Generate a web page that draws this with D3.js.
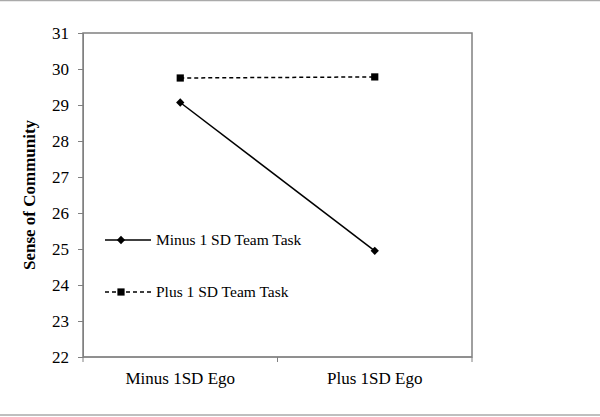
<!DOCTYPE html>
<html>
<head>
<meta charset="utf-8">
<script src="https://cdn.jsdelivr.net/npm/d3@7"></script>
<style>
  body { margin: 0; background: #fff; }
  svg, svg text { font-family: "Liberation Serif", "DejaVu Serif", serif; }
</style>
</head>
<body>
<div id="chart"></div>
<script>
// categories on the x axis
const categories = ["Minus 1SD Ego", "Plus 1SD Ego"];
// series names and values
const seriesNames = ["Minus 1 SD Team Task", "Plus 1 SD Team Task"];
const minusTeamTask = [29.07, 24.95];
const plusTeamTask = [29.75, 29.78];
const yTicks = [22, 23, 24, 25, 26, 27, 28, 29, 30, 31];

const width = 600;
const height = 417;
const margin = { top: 33, right: 128, bottom: 60, left: 83 };

const svg = d3.select("#chart").append("svg")
  .attr("width", width)
  .attr("height", height);

// outer frame lines (top and bottom)
svg.append("line").attr("x1", 0).attr("x2", width).attr("y1", 0.5).attr("y2", 0.5)
  .attr("stroke", "#aaa").attr("stroke-width", 1.5);
svg.append("line").attr("x1", 0).attr("x2", width).attr("y1", height - 2).attr("y2", height - 2)
  .attr("stroke", "#aaa").attr("stroke-width", 1.5);

const x = d3.scaleBand()
  .domain(categories)
  .range([margin.left, width - margin.right]);

const y = d3.scaleLinear()
  .domain([22, 31])
  .range([height - margin.bottom, margin.top]);

// plot area border
svg.append("rect")
  .attr("x", margin.left)
  .attr("y", margin.top)
  .attr("width", width - margin.left - margin.right)
  .attr("height", height - margin.top - margin.bottom)
  .attr("fill", "none")
  .attr("stroke", "#808080")
  .attr("stroke-width", 1.5);

// y axis
const yAxis = svg.append("g")
  .attr("transform", `translate(${margin.left},0)`)
  .call(d3.axisLeft(y).tickValues(yTicks).tickSize(5).tickPadding(9));
yAxis.attr("font-family", null).attr("font-size", null);
yAxis.select(".domain").attr("stroke", "#808080");
yAxis.selectAll(".tick line").attr("stroke", "#808080");
yAxis.selectAll("text").style("font-size", "17px").attr("fill", "#000");

// x axis: ticks at band edges, labels at centers
const xAxis = svg.append("g")
  .attr("transform", `translate(0,${height - margin.bottom})`);
xAxis.append("line")
  .attr("x1", margin.left).attr("x2", width - margin.right)
  .attr("stroke", "#808080");
const edges = categories.map(c => x(c)).concat([x(categories[1]) + x.bandwidth()]);
xAxis.selectAll("line.tick")
  .data(edges)
  .join("line")
  .attr("class", "tick")
  .attr("x1", d => d).attr("x2", d => d)
  .attr("y1", 0).attr("y2", 5)
  .attr("stroke", "#808080");
xAxis.selectAll("text")
  .data(categories)
  .join("text")
  .attr("x", d => x(d) + x.bandwidth() / 2)
  .attr("y", 27)
  .attr("text-anchor", "middle")
  .style("font-size", "17px")
  .text(d => d);

// y axis title
svg.append("text")
  .attr("transform", `translate(35,${(margin.top + height - margin.bottom) / 2}) rotate(-90)`)
  .attr("text-anchor", "middle")
  .style("font-size", "17px")
  .attr("font-weight", "bold")
  .text("Sense of Community");

const cx = d => x(d) + x.bandwidth() / 2;
const line = d3.line().x(d => cx(d.cat)).y(d => y(d.v));

const markerPath = m => m === "diamond"
  ? d3.symbol(d3.symbolDiamond2, 44)()
  : d3.symbol(d3.symbolSquare, 52)();

const series = [
  { name: seriesNames[0], values: minusTeamTask, dash: null, marker: "diamond" },
  { name: seriesNames[1], values: plusTeamTask, dash: "4,3", marker: "square" }
];

series.forEach(s => {
  const pts = categories.map((c, i) => ({ cat: c, v: s.values[i] }));
  svg.append("path")
    .datum(pts)
    .attr("fill", "none")
    .attr("stroke", "#000")
    .attr("stroke-width", 1.5)
    .attr("stroke-dasharray", s.dash)
    .attr("d", line);
  svg.append("g").selectAll("path")
    .data(pts)
    .join("path")
    .attr("transform", d => `translate(${cx(d.cat)},${y(d.v)})`)
    .attr("d", markerPath(s.marker))
    .attr("fill", "#000");
});

// legend
const legend = svg.append("g");
series.forEach((s, i) => {
  const ly = 240 + i * 52;
  legend.append("line")
    .attr("x1", 105).attr("x2", 151)
    .attr("y1", ly).attr("y2", ly)
    .attr("stroke", "#000")
    .attr("stroke-width", 1.5)
    .attr("stroke-dasharray", s.dash);
  legend.append("path")
    .attr("transform", `translate(${121},${ly})`)
    .attr("d", markerPath(s.marker))
    .attr("fill", "#000");
  legend.append("text")
    .attr("x", 156)
    .attr("y", ly)
    .attr("dy", "0.35em")
    .style("font-size", "15.5px")
    .text(s.name);
});
</script>
</body>
</html>
